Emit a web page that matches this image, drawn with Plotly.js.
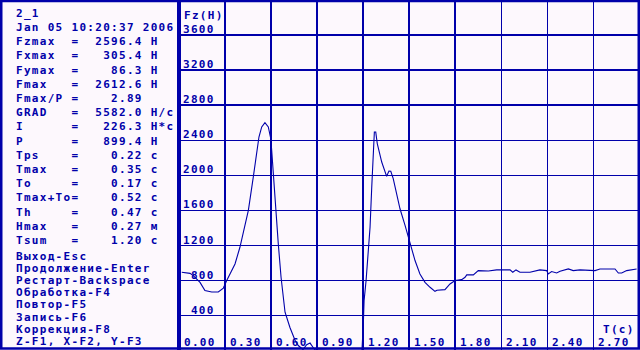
<!DOCTYPE html>
<html>
<head>
<meta charset="utf-8">
<script src="https://cdn.plot.ly/plotly-3.0.1.min.js"></script>
<style>
  html, body { margin: 0; padding: 0; background: #FDF8FD; }
  #chart { width: 640px; height: 350px; }
  .annotation-text { letter-spacing: 1.3px; }
</style>
</head>
<body>
<div id="chart"></div>
<script>
// ---------- data ----------
const timeS = [0.018,0.050,0.072,0.093,0.137,0.169,0.213,0.256,0.289,0.311,0.365,0.397,0.427,0.452,0.484,0.500,0.521,0.539,0.560,0.582,0.598,0.604,0.615,0.632,0.647,0.665,0.680,0.691,0.723,0.756,0.777,0.808,0.832,0.854,0.873,0.886,0.984,1.082,1.192,1.201,1.206,1.219,1.234,1.245,1.256,1.262,1.273,1.282,1.292,1.321,1.353,1.368,1.380,1.396,1.419,1.440,1.473,1.505,1.538,1.570,1.603,1.636,1.668,1.681,1.733,1.766,1.799,1.842,1.864,1.875,1.918,1.950,2.016,2.070,2.157,2.175,2.196,2.222,2.287,2.352,2.396,2.406,2.428,2.461,2.483,2.537,2.569,2.613,2.711,2.743,2.841,2.863,2.885,2.917,2.960,2.982];
const forceFz = [895,890,883,857,780,686,670,670,715,800,990,1180,1400,1600,1980,2171,2437,2552,2600,2552,2419,2286,1980,1600,1219,838,571,440,266,120,60,15,70,88,40,10,5,0,0,300,571,800,1105,1410,1867,2171,2495,2495,2362,2152,1989,2049,2046,1962,1790,1619,1429,1219,1029,876,780,724,678,690,697,762,800,811,838,865,865,914,910,922,922,895,922,895,895,922,914,876,903,887,906,933,914,922,914,933,933,887,887,914,922,933];

const xTickVals = [0, 0.3, 0.6, 0.9, 1.2, 1.5, 1.8, 2.1, 2.4, 2.7];
const yTickVals = [400, 800, 1200, 1600, 2000, 2400, 2800, 3200, 3600];
const xAxisLabel = "T(c)";
const yAxisLabel = "Fz(H)";

const headerLines = ["2_1", "Jan 05 10:20:37 2006"];
const statLabels = ["Fzmax","Fxmax","Fymax","Fmax","Fmax/P","GRAD","I","P","Tps","Tmax","To","Tmax+To","Th","Hmax","Tsum"];
const statValues = ["2596.4","305.4","86.3","2612.6","2.89","5582.0","226.3","899.4","0.22","0.35","0.17","0.52","0.47","0.27","1.20"];
const statUnits  = ["H","H","H","H","","H/c","H*c","H","c","c","c","c","c","м","c"];
const menuLines = ["Выход-Esc","Продолжение-Enter","Рестарт-Backspace","Обработка-F4","Повтор-F5","Запись-F6","Коррекция-F8","Z-F1, X-F2, Y-F3"];

// ---------- styling / layout helpers ----------
const BLUE = "#0000AA";
const BG = "#FDF8FD";
const FONT = {family: "DejaVu Sans Mono, Liberation Mono, monospace", size: 11, color: BLUE, weight: "bold"};
const W = 640, H = 350, L = 179;
const px2x = p => (p - L) / (W - L);
const px2y = p => 1 - p / H;
const NB = "\u00A0";
const padL = (s, n) => NB.repeat(Math.max(0, n - s.length)) + s;
const padR = (s, n) => s + NB.repeat(Math.max(0, n - s.length));

const annotations = [];
function addText(text, pxX, pxY) {
  annotations.push({text: text, xref: "paper", yref: "paper", x: px2x(pxX), y: px2y(pxY),
    xanchor: "left", yanchor: "middle", showarrow: false, font: FONT, align: "left", borderpad: 0});
}

// left information panel
const panelLines = headerLines.concat(statLabels.map((lab, i) =>
  padR(lab, 7) + "=" + padL(statValues[i], 8) + (statUnits[i] ? NB + statUnits[i] : "")));
panelLines.forEach((t, i) => addText(t, 15, 13.3 + i * 14.2));
menuLines.forEach((t, i) => addText(t, 15, 256 + i * 12.2));

// axis labels inside plot
addText(yAxisLabel, 183, 15.7);
addText(xAxisLabel, 601.5, 329.5);

// tick labels drawn at axis positions
xTickVals.forEach(v => annotations.push({text: v.toFixed(2), xref: "x", yref: "paper", x: v, y: px2y(342.5),
  xanchor: "left", yanchor: "middle", xshift: 3.5, showarrow: false, font: FONT, borderpad: 0}));
yTickVals.forEach(v => annotations.push({text: padL(String(v), 4), xref: "paper", yref: "y", x: px2x(181.5), y: v,
  xanchor: "left", yanchor: "bottom", yshift: -2, showarrow: false, font: FONT, borderpad: 0}));

const shapes = [
  {type: "rect", xref: "paper", yref: "paper", x0: px2x(1.25), x1: px2x(638.75), y0: px2y(348.5), y1: px2y(1),
   line: {color: BLUE, width: 2.5}, layer: "above"},
  {type: "line", xref: "paper", yref: "paper", x0: px2x(179), x1: px2x(179), y0: 0, y1: 1,
   line: {color: BLUE, width: 4}, layer: "above"}
];

const trace = {x: timeS, y: forceFz, type: "scatter", mode: "lines",
  line: {color: BLUE, width: 1.1, shape: "linear"}, hoverinfo: "skip"};

const axisCommon = {showgrid: true, gridcolor: BLUE, gridwidth: 1.5, zeroline: false,
  showticklabels: false, ticks: "", showline: false, fixedrange: true};

const layout = {
  width: W, height: H,
  margin: {l: L, r: 0, t: 0, b: 0, pad: 0},
  paper_bgcolor: BG, plot_bgcolor: BG,
  showlegend: false,
  xaxis: Object.assign({range: [0, 3.004], tick0: 0, dtick: 0.3}, axisCommon),
  yaxis: Object.assign({range: [9, 3999], tick0: 0, dtick: 400}, axisCommon),
  annotations: annotations,
  shapes: shapes
};

Plotly.newPlot("chart", [trace], layout, {displayModeBar: false, staticPlot: true});
</script>
</body>
</html>
